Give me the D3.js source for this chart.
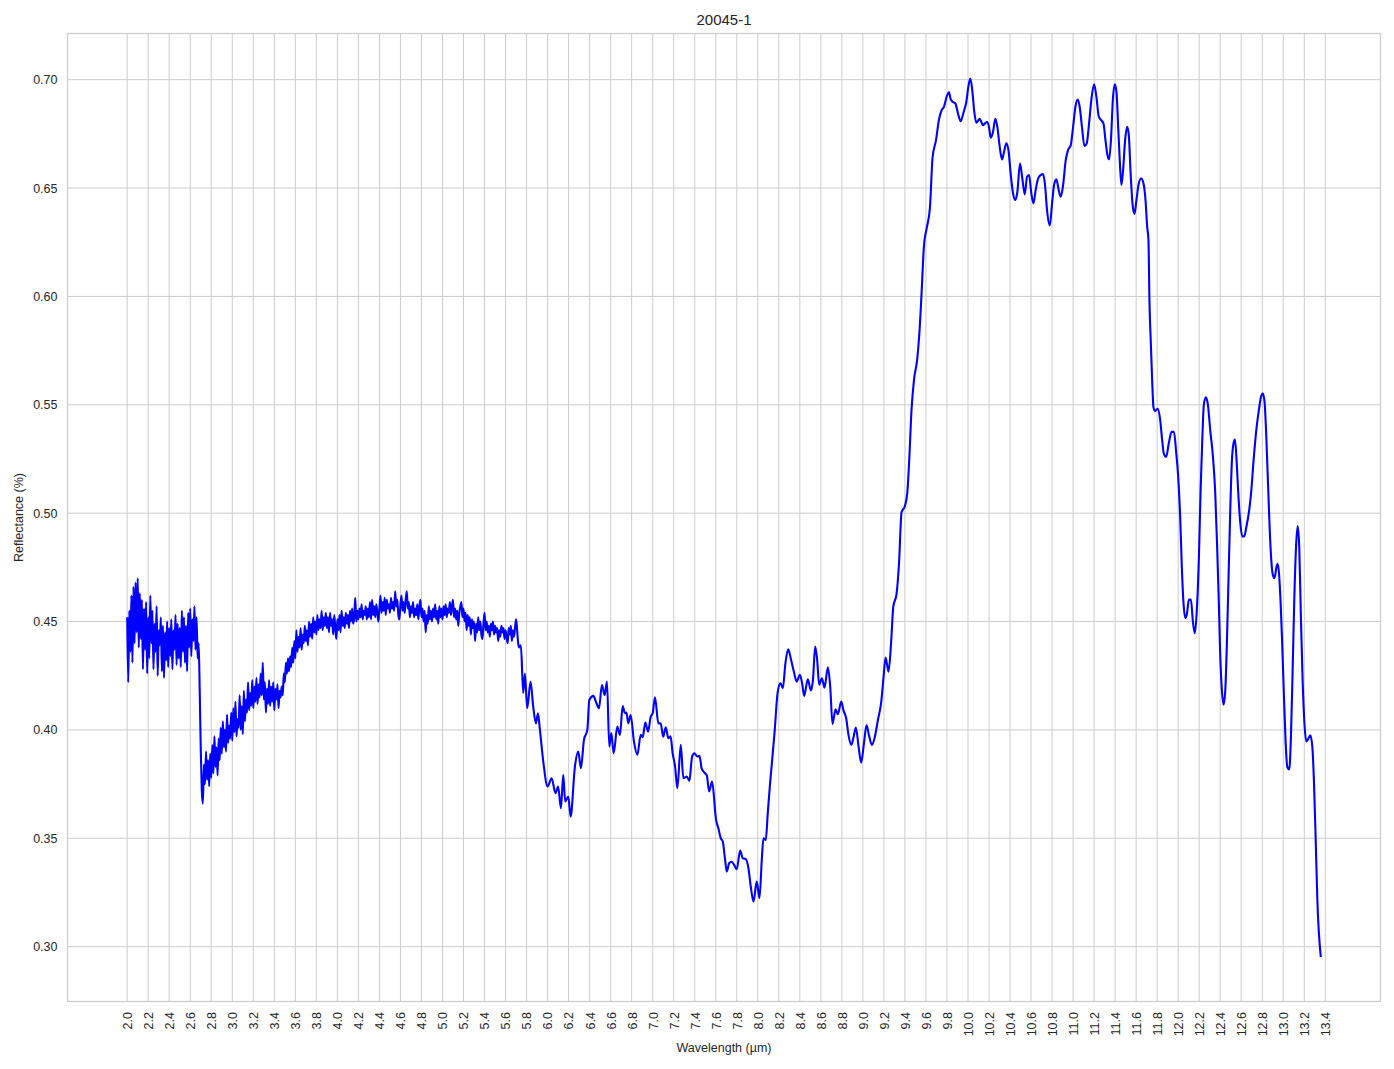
<!DOCTYPE html>
<html>
<head>
<meta charset="utf-8">
<script src="https://cdn.jsdelivr.net/npm/d3@7/dist/d3.min.js"></script>
<style>
  html, body { margin: 0; padding: 0; background: #ffffff; }
  svg { display: block; font-family: "Liberation Sans", Arial, "DejaVu Sans", sans-serif; }
</style>
</head>
<body>
<svg id="chart" width="1394" height="1069"></svg>
<script>
// ---------- DATA ----------
const chartTitle = "20045-1";
const xLabel = "Wavelength (µm)";
const yLabel = "Reflectance (%)";

const xTickValues = [2.0,2.2,2.4,2.6,2.8,3.0,3.2,3.4,3.6,3.8,4.0,4.2,4.4,4.6,4.8,5.0,5.2,5.4,5.6,5.8,6.0,6.2,6.4,6.6,6.8,7.0,7.2,7.4,7.6,7.8,8.0,8.2,8.4,8.6,8.8,9.0,9.2,9.4,9.6,9.8,10.0,10.2,10.4,10.6,10.8,11.0,11.2,11.4,11.6,11.8,12.0,12.2,12.4,12.6,12.8,13.0,13.2,13.4];
const yTickValues = [0.30,0.35,0.40,0.45,0.50,0.55,0.60,0.65,0.70];

// noisy short-wave part, sampled every 0.01 µm starting at 2.00
const noisyStartA = 2.00, noisyStepA = 0.01;
const reflNoisyA = [
 0.452,0.422,0.455,0.436,0.462,0.431,0.466,0.440,0.468,0.445,
 0.470,0.438,0.463,0.442,0.460,0.428,0.456,0.437,0.459,0.426,
 0.452,0.433,0.462,0.440,0.455,0.428,0.449,0.436,0.457,0.425,
 0.446,0.439,0.452,0.427,0.448,0.424,0.445,0.432,0.450,0.429,
 0.447,0.434,0.451,0.428,0.446,0.437,0.453,0.430,0.449,0.433,
 0.447,0.429,0.455,0.436,0.452,0.431,0.448,0.427,0.454,0.438,
 0.456,0.434,0.451,0.441,0.457,0.437,0.452,0.433,0.440,0.418
];

// noisy part after the drop, sampled every 0.01 µm starting at 2.70
const noisyStartB = 2.70, noisyStepB = 0.01;
const reflNoisyB = [
 0.391,0.372,0.366,0.384,0.375,0.390,0.377,0.386,0.374,0.389,
 0.378,0.393,0.380,0.397,0.383,0.392,0.379,0.396,0.386,0.401,
 0.389,0.404,0.392,0.400,0.390,0.407,0.394,0.402,0.396,0.408,
 0.395,0.410,0.399,0.413,0.397,0.405,0.401,0.416,0.400,0.411,
 0.398,0.418,0.404,0.414,0.408,0.422,0.409,0.417,0.411,0.423,
 0.410,0.420,0.413,0.424,0.412,0.421,0.415,0.426,0.416,0.431,
 0.414,0.422,0.408,0.419,0.412,0.423,0.411,0.420,0.413,0.422,
 0.409,0.419,0.414,0.421,0.410,0.418,0.415,0.420,0.416,0.426,
 0.422,0.431,0.426,0.433,0.427,0.434,0.429,0.438,0.431,0.441,
 0.433,0.446,0.436,0.443,0.438,0.447,0.437,0.444,0.440,0.448,
 0.441,0.446,0.439,0.450,0.443,0.449,0.442,0.452,0.445,0.450,
 0.444,0.453,0.446,0.451,0.447,0.455,0.446,0.452,0.448,0.454,
 0.447,0.452,0.445,0.454,0.448,0.451,0.444,0.453,0.447,0.442,
 0.451,0.446,0.453,0.445,0.455,0.448,0.452,0.447,0.454,0.449,
 0.453,0.447,0.455,0.450,0.456,0.449,0.452,0.461,0.450,0.455,
 0.451,0.456,0.452,0.458,0.451,0.455,0.453,0.457,0.451,0.456,
 0.452,0.459,0.451,0.460,0.453,0.457,0.452,0.458,0.454,0.450,
 0.456,0.462,0.454,0.459,0.455,0.461,0.453,0.460,0.456,0.458,
 0.454,0.461,0.456,0.459,0.455,0.464,0.457,0.460,0.453,0.451,
 0.458,0.462,0.455,0.459,0.454,0.460,0.464,0.456,0.459,0.452,
 0.457,0.454,0.459,0.452,0.456,0.453,0.458,0.451,0.457,0.460,
 0.452,0.456,0.450,0.455,0.445,0.453,0.449,0.457,0.451,0.455,
 0.450,0.456,0.452,0.458,0.451,0.455,0.449,0.457,0.452,0.456,
 0.451,0.457,0.453,0.458,0.452,0.456,0.454,0.459,0.453,0.457,
 0.460,0.452,0.456,0.451,0.455,0.448,0.454,0.457,0.459,0.452,
 0.456,0.450,0.454,0.446,0.453,0.448,0.452,0.444,0.451,0.447,
 0.450,0.441,0.449,0.445,0.452,0.446,0.450,0.444,0.442,0.449,
 0.454,0.446,0.450,0.445,0.448,0.443,0.449,0.446,0.450,0.444,
 0.448,0.445,0.447,0.441,0.446,0.443,0.448,0.445,0.447,0.442,
 0.446,0.443,0.440,0.447,0.444,0.448,0.441,0.446,0.443,0.447,
 0.451,0.446,0.440,0.438
];

// smoother long-wave part: [wavelength, reflectance]
const spectrumSmooth = [
 [5.746,0.439],[5.768,0.417],[5.784,0.426],[5.806,0.410],[5.838,0.4223],[5.863,0.4108],[5.889,0.403],[5.908,0.4077],[5.927,0.400],[5.959,0.3854],
 [6.0,0.3739],[6.038,0.3777],[6.076,0.3708],[6.1,0.3739],[6.127,0.3639],[6.149,0.3793],[6.168,0.367],[6.197,0.3693],[6.219,0.36],[6.26,0.3831],
 [6.292,0.39],[6.317,0.3823],[6.346,0.3954],[6.378,0.40],[6.397,0.4138],[6.435,0.4157],[6.46,0.413],[6.489,0.41],[6.517,0.4207],[6.543,0.4161],
 [6.565,0.4223],[6.587,0.3923],[6.606,0.3985],[6.629,0.3892],[6.663,0.4015],[6.689,0.3977],[6.714,0.411],[6.737,0.4077],[6.75,0.408],[6.768,0.403],
 [6.79,0.4069],[6.822,0.3946],[6.854,0.3885],[6.886,0.3977],[6.905,0.3966],[6.93,0.4034],[6.956,0.3992],[6.981,0.4061],[7.0,0.4077],[7.022,0.4151],
 [7.054,0.403],[7.076,0.403],[7.1,0.3969],[7.124,0.4012],[7.149,0.3962],[7.17,0.397],[7.19,0.3892],[7.213,0.3831],[7.235,0.3731],[7.267,0.3931],
 [7.292,0.3777],[7.324,0.3785],[7.349,0.3765],[7.375,0.3877],[7.397,0.3892],[7.425,0.3877],[7.445,0.388],[7.467,0.382],[7.498,0.38],[7.515,0.379],
 [7.537,0.3716],[7.565,0.3762],[7.603,0.3585],[7.625,0.3546],[7.648,0.35],[7.667,0.3485],[7.689,0.34],[7.705,0.3346],[7.727,0.3385],[7.752,0.3392],
 [7.775,0.3377],[7.8,0.3357],[7.832,0.3443],[7.857,0.3408],[7.886,0.3404],[7.911,0.3362],[7.933,0.3278],[7.959,0.3208],[7.99,0.330],[8.016,0.3224],
 [8.038,0.340],[8.054,0.350],[8.076,0.3492],[8.095,0.3616],[8.117,0.3754],[8.127,0.3808],[8.159,0.3985],[8.19,0.4177],[8.216,0.4215],[8.238,0.4192],
 [8.263,0.4308],[8.289,0.4372],[8.317,0.4323],[8.343,0.4269],[8.371,0.4223],[8.4,0.4254],[8.422,0.4215],[8.441,0.4157],[8.476,0.4234],[8.505,0.4182],
 [8.525,0.4231],[8.546,0.4385],[8.565,0.4323],[8.584,0.4208],[8.61,0.4238],[8.635,0.4195],[8.667,0.4289],[8.689,0.42],[8.711,0.4028],[8.74,0.4095],
 [8.762,0.4072],[8.794,0.4131],[8.816,0.4089],[8.841,0.4054],[8.863,0.3977],[8.889,0.3931],[8.911,0.3966],[8.933,0.4011],[8.959,0.3923],[8.984,0.3849],
 [9.01,0.3938],[9.035,0.4023],[9.057,0.3977],[9.086,0.3931],[9.111,0.3962],[9.143,0.4046],[9.175,0.4131],[9.197,0.4246],[9.216,0.4334],[9.244,0.4269],
 [9.27,0.4415],[9.289,0.4568],[9.32,0.4626],[9.343,0.4762],[9.368,0.5004],[9.4,0.5033],[9.422,0.5091],[9.441,0.5246],[9.463,0.5479],[9.486,0.5614],
 [9.517,0.5711],[9.537,0.5827],[9.559,0.6021],[9.581,0.6234],[9.606,0.6312],[9.638,0.6409],[9.663,0.6641],[9.695,0.6719],[9.724,0.6816],[9.749,0.6859],
 [9.771,0.6874],[9.797,0.6922],[9.819,0.6942],[9.835,0.691],[9.857,0.6897],[9.88,0.689],[9.905,0.6844],[9.93,0.6808],[9.959,0.6851],[9.984,0.6897],
 [10.003,0.6966],[10.022,0.7005],[10.041,0.6951],[10.06,0.6851],[10.079,0.6801],[10.095,0.681],[10.111,0.682],[10.127,0.6805],[10.143,0.679],[10.16,0.6797],
 [10.181,0.6805],[10.2,0.6782],[10.216,0.6732],[10.238,0.6759],[10.26,0.682],[10.279,0.6782],[10.302,0.669],[10.324,0.6632],[10.343,0.6667],[10.365,0.6706],
 [10.387,0.6667],[10.406,0.6567],[10.429,0.6475],[10.451,0.6445],[10.47,0.6483],[10.495,0.6613],[10.517,0.6544],[10.54,0.6471],[10.562,0.6552],[10.581,0.656],
 [10.603,0.6475],[10.622,0.6429],[10.644,0.6491],[10.667,0.6544],[10.692,0.656],[10.714,0.6564],[10.733,0.6514],[10.752,0.6399],[10.778,0.6327],[10.8,0.6429],
 [10.819,0.6514],[10.841,0.654],[10.863,0.6491],[10.883,0.646],[10.905,0.6514],[10.93,0.6629],[10.952,0.6675],[10.978,0.6698],[11.0,0.6782],[11.022,0.6874],
 [11.044,0.6908],[11.063,0.6874],[11.086,0.6775],[11.108,0.6693],[11.13,0.6706],[11.152,0.6798],[11.175,0.6913],[11.2,0.6979],[11.222,0.692],[11.244,0.6831],
 [11.267,0.6813],[11.289,0.6798],[11.308,0.6721],[11.327,0.6652],[11.343,0.6632],[11.362,0.6736],[11.378,0.6905],[11.397,0.6979],[11.413,0.6943],[11.429,0.6782],
 [11.444,0.6629],[11.46,0.6514],[11.476,0.6583],[11.495,0.6721],[11.514,0.6782],[11.53,0.6744],[11.546,0.6583],[11.565,0.6429],[11.584,0.638],[11.603,0.6445],
 [11.625,0.6521],[11.648,0.6544],[11.67,0.6521],[11.689,0.6445],[11.705,0.6322],[11.717,0.6261],[11.727,0.5971],[11.74,0.5782],[11.752,0.5618],[11.765,0.5488],
 [11.781,0.5472],[11.806,0.5481],[11.829,0.5429],[11.848,0.5335],[11.863,0.5276],[11.886,0.526],[11.911,0.5324],[11.937,0.5375],[11.96,0.5375],[11.981,0.528],
 [12.0,0.517],[12.019,0.4982],[12.035,0.4747],[12.051,0.4582],[12.067,0.4516],[12.083,0.4535],[12.102,0.4601],[12.121,0.4601],[12.14,0.45],[12.159,0.4446],
 [12.178,0.4559],[12.197,0.4794],[12.213,0.51],[12.229,0.5335],[12.244,0.55],[12.263,0.5535],[12.283,0.55],[12.305,0.5382],[12.33,0.5265],[12.352,0.51],
 [12.371,0.4841],[12.387,0.4582],[12.4,0.4347],[12.416,0.4182],[12.432,0.4116],[12.448,0.4182],[12.463,0.4394],[12.479,0.47],[12.495,0.5006],[12.511,0.5241],
 [12.527,0.5324],[12.54,0.534],[12.556,0.5241],[12.571,0.51],[12.59,0.4959],[12.61,0.4893],[12.629,0.4893],[12.648,0.4935],[12.67,0.4994],[12.695,0.51],
 [12.717,0.5241],[12.743,0.5382],[12.768,0.5476],[12.787,0.5535],[12.806,0.5552],[12.822,0.5512],[12.838,0.5359],[12.854,0.5147],[12.87,0.4935],[12.886,0.4782],
 [12.902,0.4712],[12.917,0.47],[12.933,0.4747],[12.946,0.4766],[12.959,0.4724],[12.975,0.4582],[12.99,0.4394],[13.006,0.4159],[13.022,0.3947],[13.038,0.3829],
 [13.057,0.3818],[13.073,0.3971],[13.089,0.4276],[13.105,0.4606],[13.121,0.4841],[13.137,0.494],[13.152,0.4841],[13.168,0.4512],[13.184,0.4229],[13.2,0.4041],
 [13.219,0.3947],[13.238,0.3959],[13.257,0.3975],[13.276,0.3924],[13.292,0.3759],[13.308,0.35],[13.324,0.3218],[13.357,0.2952]
];

// ---------- BUILD SERIES ----------
const series = [];
reflNoisyA.forEach((v, i) => series.push([+(noisyStartA + i * noisyStepA).toFixed(3), v]));
reflNoisyB.forEach((v, i) => series.push([+(noisyStartB + i * noisyStepB).toFixed(3), v]));
spectrumSmooth.forEach(p => series.push(p));

// ---------- LAYOUT ----------
const W = 1394, H = 1069;
const plot = { left: 67.5, right: 1380.5, top: 33.5, bottom: 1001.5 };
const textColor = "#262626";
const gridColor = "#cccccc";

const svg = d3.select("#chart");
svg.append("rect").attr("width", W).attr("height", H).attr("fill", "#ffffff");

const x = d3.scaleLinear().domain([1.432, 13.925]).range([plot.left, plot.right]);
const y = d3.scaleLinear().domain([0.2747, 0.7213]).range([plot.bottom, plot.top]);

// grid
const grid = svg.append("g");
grid.selectAll("line.vg").data(xTickValues).enter().append("line")
  .attr("x1", d => x(d)).attr("x2", d => x(d))
  .attr("y1", plot.top).attr("y2", plot.bottom)
  .attr("stroke", gridColor).attr("stroke-width", 1);
grid.selectAll("line.hg").data(yTickValues).enter().append("line")
  .attr("x1", plot.left).attr("x2", plot.right)
  .attr("y1", d => y(d)).attr("y2", d => y(d))
  .attr("stroke", gridColor).attr("stroke-width", 1);

// axes (labels only, no tick marks)
const xAxis = d3.axisBottom(x).tickValues(xTickValues).tickFormat(d3.format(".1f")).tickSize(0).tickPadding(0);
const gx = svg.append("g").attr("transform", `translate(0,${plot.bottom})`).call(xAxis);
gx.select(".domain").remove();
gx.selectAll("text")
  .attr("transform", "rotate(-90)")
  .attr("text-anchor", "end")
  .attr("x", -10.5)
  .attr("y", 0)
  .attr("dy", "0.35em")
  .attr("fill", textColor)
  .style("font-size", "12.5px")
  .style("font-family", '"Liberation Sans", Arial, sans-serif');

const yAxis = d3.axisLeft(y).tickValues(yTickValues).tickFormat(d3.format(".2f")).tickSize(0).tickPadding(10);
const gy = svg.append("g").attr("transform", `translate(${plot.left},0)`).call(yAxis);
gy.select(".domain").remove();
gy.selectAll("text")
  .attr("fill", textColor)
  .style("font-size", "12.5px")
  .style("font-family", '"Liberation Sans", Arial, sans-serif');

// spectrum line
const line = d3.line()
  .x(d => x(d[0]))
  .y(d => y(d[1]))
  .curve(d3.curveMonotoneX);
svg.append("path")
  .datum(series)
  .attr("d", line)
  .attr("fill", "none")
  .attr("stroke", "#0000ff")
  .attr("stroke-width", 2.1)
  .attr("stroke-linejoin", "round")
  .attr("stroke-linecap", "butt");

// frame
svg.append("rect")
  .attr("x", plot.left).attr("y", plot.top)
  .attr("width", plot.right - plot.left).attr("height", plot.bottom - plot.top)
  .attr("fill", "none").attr("stroke", gridColor).attr("stroke-width", 1.25);

// title and axis labels
svg.append("text")
  .attr("x", (plot.left + plot.right) / 2).attr("y", 25)
  .attr("text-anchor", "middle")
  .attr("fill", textColor)
  .style("font-size", "15px")
  .text(chartTitle);

svg.append("text")
  .attr("x", (plot.left + plot.right) / 2).attr("y", 1052)
  .attr("text-anchor", "middle")
  .attr("fill", textColor)
  .style("font-size", "12.5px")
  .text(xLabel);

svg.append("text")
  .attr("transform", `translate(23,${(plot.top + plot.bottom) / 2}) rotate(-90)`)
  .attr("text-anchor", "middle")
  .attr("fill", textColor)
  .style("font-size", "12.5px")
  .text(yLabel);
</script>
</body>
</html>
